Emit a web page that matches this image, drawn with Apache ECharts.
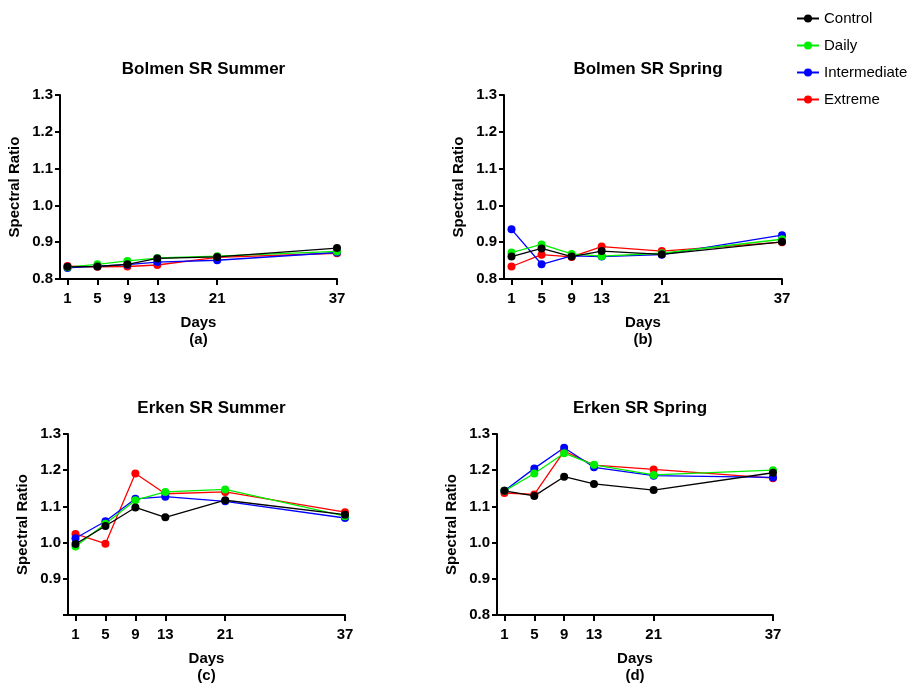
<!DOCTYPE html>
<html>
<head>
<meta charset="utf-8">
<script src="https://cdn.jsdelivr.net/npm/echarts@6/dist/echarts.min.js"></script>
<style>
  html, body { margin: 0; padding: 0; background: #fff; }
  #myChart { width: 914px; height: 685px; }
</style>
</head>
<body>
<div id="myChart"></div>
<script>
// 横轴：天数
var days = [1, 5, 9, 13, 21, 37];
var yTicks = [0.8, 0.9, 1.0, 1.1, 1.2, 1.3];
var groupNames = ["Control", "Daily", "Intermediate", "Extreme"];
var panelTitles = ["Bolmen SR Summer", "Bolmen SR Spring", "Erken SR Summer", "Erken SR Spring"];
var panelTags = ["(a)", "(b)", "(c)", "(d)"];

// (a) Bolmen SR Summer
var bolmenSummerControl = [0.833, 0.834, 0.840, 0.856, 0.860, 0.884];
var bolmenSummerDaily = [0.832, 0.840, 0.849, 0.857, 0.862, 0.875];
var bolmenSummerIntermediate = [0.830, 0.835, 0.839, 0.846, 0.851, 0.872];
var bolmenSummerExtreme = [0.835, 0.833, 0.834, 0.838, 0.859, 0.870];

// (b) Bolmen SR Spring
var bolmenSpringControl = [0.861, 0.883, 0.861, 0.876, 0.867, 0.901];
var bolmenSpringDaily = [0.872, 0.894, 0.868, 0.862, 0.870, 0.908];
var bolmenSpringIntermediate = [0.935, 0.840, 0.863, 0.861, 0.866, 0.919];
var bolmenSpringExtreme = [0.834, 0.866, 0.860, 0.888, 0.876, 0.900];

// (c) Erken SR Summer
var erkenSummerControl = [0.996, 1.046, 1.097, 1.070, 1.117, 1.077];
var erkenSummerDaily = [0.989, 1.052, 1.117, 1.140, 1.147, 1.073];
var erkenSummerIntermediate = [1.012, 1.059, 1.121, 1.127, 1.114, 1.068];
var erkenSummerExtreme = [1.024, 0.997, 1.191, 1.135, 1.140, 1.084];

// (d) Erken SR Spring
var erkenSpringControl = [1.143, 1.129, 1.182, 1.162, 1.145, 1.193];
var erkenSpringDaily = [1.143, 1.191, 1.247, 1.215, 1.187, 1.200];
var erkenSpringIntermediate = [1.143, 1.205, 1.262, 1.208, 1.185, 1.180];
var erkenSpringExtreme = [1.137, 1.133, 1.253, 1.214, 1.202, 1.178];

var panelData = [
  [bolmenSummerControl, bolmenSummerDaily, bolmenSummerIntermediate, bolmenSummerExtreme],
  [bolmenSpringControl, bolmenSpringDaily, bolmenSpringIntermediate, bolmenSpringExtreme],
  [erkenSummerControl, erkenSummerDaily, erkenSummerIntermediate, erkenSummerExtreme],
  [erkenSpringControl, erkenSpringDaily, erkenSpringIntermediate, erkenSpringExtreme]
];

var colors = ["#000000", "#00ee00", "#0000ff", "#ff0000"];
var font = "Liberation Sans, Arial, Helvetica, sans-serif";

// 每个子图的位置 (像素)
var grids = [
  { left: 60, top: 95, width: 277, height: 184 },
  { left: 504, top: 95, width: 278, height: 184 },
  { left: 68, top: 434, width: 277, height: 184 },
  { left: 497, top: 434, width: 276, height: 184 }
];

var titles = [], xAxes = [], yAxes = [], series = [];
grids.forEach(function (g, i) {
  titles.push({
    text: panelTitles[i],
    left: g.left + g.width / 2,
    top: g.top - 39,
    textAlign: "center",
    textStyle: { fontFamily: font, fontWeight: "bold", fontSize: 17, color: "#000" }
  });
  xAxes.push({
    gridIndex: i,
    type: "value",
    min: 0,
    max: 37,
    name: "Days\n" + panelTags[i],
    nameLocation: "middle",
    nameGap: 35,
    nameTextStyle: { fontFamily: font, fontWeight: "bold", fontSize: 15, color: "#000", lineHeight: 17 },
    axisLine: { lineStyle: { color: "#000", width: 2 } },
    axisTick: { customValues: days, length: 6, lineStyle: { color: "#000", width: 2 } },
    axisLabel: { customValues: days, margin: 12, fontFamily: font, fontWeight: "bold", fontSize: 15, color: "#000" },
    splitLine: { show: false }
  });
  yAxes.push({
    gridIndex: i,
    type: "value",
    min: 0.8,
    max: 1.3,
    interval: 0.1,
    name: "Spectral Ratio",
    nameLocation: "middle",
    nameGap: 38,
    nameTextStyle: { fontFamily: font, fontWeight: "bold", fontSize: 15, color: "#000" },
    axisLine: { show: true, lineStyle: { color: "#000", width: 2 } },
    axisTick: { show: true, length: 5, lineStyle: { color: "#000", width: 2 } },
    axisLabel: {
      margin: 7,
      fontFamily: font, fontWeight: "bold", fontSize: 15, color: "#000",
      formatter: function (v) {
        if (i === 2 && Math.abs(v - yTicks[0]) < 1e-6) return "";
        return v.toFixed(1);
      }
    },
    splitLine: { show: false }
  });
  // 从 Extreme 开始画，Control 在最上层
  for (var k = groupNames.length - 1; k >= 0; k--) {
    series.push({
      name: groupNames[k],
      type: "line",
      xAxisIndex: i,
      yAxisIndex: i,
      data: days.map(function (d, j) { return [d, panelData[i][k][j]]; }),
      symbol: "circle",
      symbolSize: 8,
      color: colors[k],
      lineStyle: { width: 1.3, color: colors[k] },
      itemStyle: { color: colors[k] }
    });
  }
});

var option = {
  animation: false,
  backgroundColor: "#fff",
  title: titles,
  legend: {
    data: groupNames,
    orient: "vertical",
    left: 791,
    top: 6,
    itemWidth: 22,
    itemHeight: 10,
    itemGap: 12,
    textStyle: { fontFamily: font, fontSize: 15, color: "#000" }
  },
  grid: grids,
  xAxis: xAxes,
  yAxis: yAxes,
  series: series
};

var myChart = echarts.init(document.getElementById("myChart"));
myChart.setOption(option);
</script>
</body>
</html>
